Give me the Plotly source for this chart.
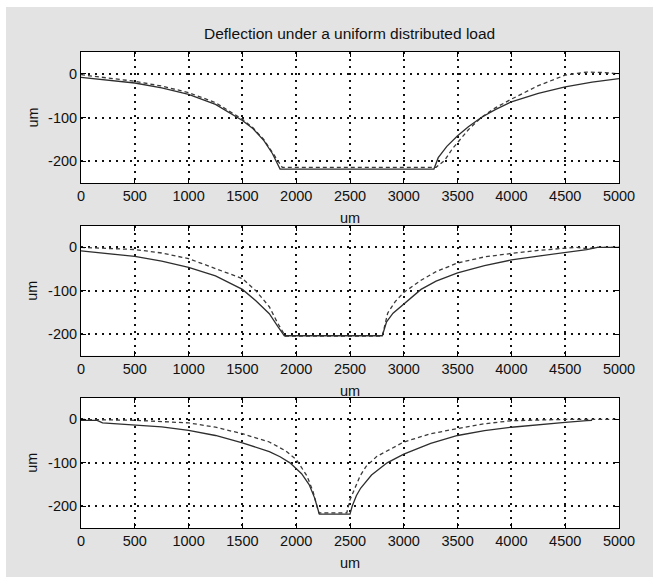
import plotly.graph_objects as go

# ---------------- data ----------------
x_ticks = [0, 500, 1000, 1500, 2000, 2500, 3000, 3500, 4000, 4500, 5000]
y_ticks = [-200, -100, 0]
title_text = "Deflection under a uniform distributed load"
axis_label = "um"

# panel 1
p1_solid_x = [0, 250, 500, 750, 1000, 1250, 1500, 1600, 1700, 1780, 1850, 3280, 3320, 3400, 3500, 3600, 3720, 3850, 4000, 4250, 4500, 4750, 5000]
p1_solid_y = [-8, -14, -21, -32, -47, -70, -107, -126, -153, -183, -218, -218, -192, -166, -142, -121, -100, -82, -64, -45, -30, -19, -11]
p1_dash_x = [0, 250, 500, 750, 1000, 1250, 1500, 1600, 1700, 1800, 1870, 3300, 3380, 3450, 3500, 3600, 3720, 3850, 4000, 4250, 4500, 4700, 4850, 5000]
p1_dash_y = [-2, -10, -17, -28, -43, -66, -104, -124, -151, -188, -214, -214, -198, -172, -158, -128, -100, -78, -58, -27, -3, 4, 3, 0]

# panel 2
p2_solid_x = [0, 250, 500, 750, 1000, 1250, 1500, 1625, 1750, 1830, 1890, 2800, 2840, 2900, 3000, 3160, 3300, 3500, 3750, 4000, 4250, 4500, 4700, 4800, 5000]
p2_solid_y = [-8, -14, -21, -32, -46, -66, -97, -123, -153, -183, -204, -204, -172, -152, -131, -97, -78, -59, -42, -29, -20, -12, -5, 0, 0]
p2_dash_x = [0, 250, 500, 750, 1000, 1250, 1500, 1625, 1750, 1830, 1900, 2800, 2850, 2920, 3000, 3160, 3300, 3500, 3750, 4000, 4250, 4500, 4600, 4700, 4800, 5000]
p2_dash_y = [0, -2, -5, -13, -26, -49, -72, -100, -137, -176, -205, -205, -152, -125, -104, -76, -56, -36, -22, -14, -7, -2, 0, -3, 0, 0]

# panel 3
p3_solid_x = [0, 150, 200, 500, 750, 1000, 1250, 1500, 1650, 1750, 1850, 1942, 2050, 2120, 2170, 2215, 2500, 2520, 2560, 2600, 2700, 2845, 3000, 3250, 3500, 3750, 4000, 4250, 4500, 4700, 4750]
p3_solid_y = [-2, -2, -8, -12, -17, -25, -37, -54, -65, -74, -86, -100, -125, -150, -180, -218, -218, -200, -175, -158, -128, -100, -80, -55, -37, -26, -18, -12, -7, -3, -2]
p3_dash_x = [0, 500, 1000, 1250, 1500, 1750, 1900, 2000, 2100, 2155, 2210, 2470, 2500, 2550, 2594, 2650, 2750, 3000, 3250, 3500, 3750, 4000, 4500, 5000]
p3_dash_y = [0, -2, -8, -18, -33, -52, -72, -92, -130, -165, -215, -215, -185, -155, -130, -108, -85, -52, -33, -21, -10, -3, 0, 0]

# ---------------- layout geometry ----------------
W, H = 653, 577
AX_L, AX_R = 81, 619
PANELS = [(52, 183), (225.7, 355.7), (397.7, 528)]  # top, bottom pixel rows


def px(x):
    return x / W


def py(y):
    return 1 - y / H


fig = go.Figure()

series = [
    (p1_solid_x, p1_solid_y, p1_dash_x, p1_dash_y),
    (p2_solid_x, p2_solid_y, p2_dash_x, p2_dash_y),
    (p3_solid_x, p3_solid_y, p3_dash_x, p3_dash_y),
]

FONT = "Liberation Sans, Arial, sans-serif"
tick_font = dict(family=FONT, size=14.5, color="#111111")

for i, (sx, sy, dx, dy) in enumerate(series):
    suffix = "" if i == 0 else str(i + 1)
    xa = "x" + suffix
    ya = "y" + suffix
    fig.add_trace(go.Scatter(x=dx, y=dy, mode="lines", xaxis=xa, yaxis=ya,
                             line=dict(color="#3a3a3a", width=1.3, dash="4px,3px"),
                             showlegend=False, hoverinfo="skip"))
    fig.add_trace(go.Scatter(x=sx, y=sy, mode="lines", xaxis=xa, yaxis=ya,
                             line=dict(color="#2e2e2e", width=1.3),
                             showlegend=False, hoverinfo="skip"))
    top, bot = PANELS[i]
    common = dict(showgrid=True, gridcolor="#111111", gridwidth=1.6, griddash="2px,5px",
                  zeroline=False, showline=True, linecolor="#000000", linewidth=1,
                  mirror="ticks", ticks="inside", ticklen=5, tickcolor="#000000",
                  tickfont=tick_font, automargin=False, fixedrange=True)
    fig.layout["xaxis" + suffix] = dict(
        domain=[px(AX_L), px(AX_R)], range=[0, 5000], tickmode="array",
        tickvals=x_ticks, ticktext=[str(v) for v in x_ticks], anchor=ya, **common)
    fig.layout["yaxis" + suffix] = dict(
        domain=[py(bot), py(top)], range=[-250, 50], tickmode="array",
        tickvals=y_ticks, ticktext=[str(v) for v in y_ticks], anchor=xa, **common)

annotations = [
    dict(text=title_text, x=px(349), y=py(34), xref="paper", yref="paper",
         showarrow=False, xanchor="center", yanchor="middle",
         font=dict(family=FONT, size=15.5, color="#111111")),
]
for top, bot in PANELS:
    annotations.append(dict(text=axis_label, x=px(350), y=py(bot + 35), xref="paper", yref="paper",
                            showarrow=False, xanchor="center", yanchor="middle",
                            font=dict(family=FONT, size=14.5, color="#111111")))
    annotations.append(dict(text=axis_label, x=px(32), y=py((top + bot) / 2), xref="paper", yref="paper",
                            showarrow=False, xanchor="center", yanchor="middle", textangle=-90,
                            font=dict(family=FONT, size=14.5, color="#111111")))

shapes = [
    dict(type="rect", xref="paper", yref="paper", x0=-0.01, x1=px(6), y0=-0.01, y1=1.01,
         fillcolor="white", line=dict(width=0), layer="below"),
    dict(type="rect", xref="paper", yref="paper", x0=-0.01, x1=1.01, y0=py(7), y1=1.01,
         fillcolor="white", line=dict(width=0), layer="below"),
]

fig.update_layout(
    width=W, height=H, margin=dict(l=0, r=0, t=0, b=0, pad=0),
    paper_bgcolor="#e3e3e3", plot_bgcolor="#ffffff",
    annotations=annotations, shapes=shapes, showlegend=False,
)

fig.write_html("out.html", config={"displayModeBar": False})
